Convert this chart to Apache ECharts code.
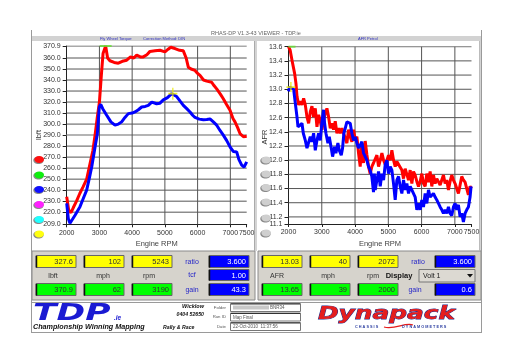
<!DOCTYPE html>
<html><head><meta charset="utf-8">
<script src="https://cdn.jsdelivr.net/npm/echarts@6/dist/echarts.min.js"></script>
<style>html,body{margin:0;padding:0;background:#fff}#c{width:512px;height:362px}</style>
</head><body><div id="c"></div>
<script>
// ---------- data ----------
const rpmTicks = [2000, 3000, 4000, 5000, 6000, 7000, 7500];
const lbftTicks = [209.0, 220, 230, 240, 250, 260, 270, 280, 290, 300, 310, 320, 330, 340, 350, 360, 370.9];
const afrTicks = [11.1, 11.2, 11.4, 11.6, 11.8, 12.0, 12.2, 12.4, 12.6, 12.8, 13.0, 13.2, 13.4, 13.6];

const torqueRed = [[2000,234],[2060,222],[2130,219.5],[2200,224],[2300,230],[2400,237],[2500,243],[2611,250],[2712,264],[2800,276],[2866,290],[2930,305],[3000,320],[3060,345],[3110,364],[3190,370.9],[3250,360],[3320,357.5],[3450,356],[3577,355.3],[3700,357],[3833,358],[3950,361],[4050,360],[4139,362.6],[4250,361],[4340,361],[4450,363],[4545,366],[4698,366.5],[4850,367],[5003,365.6],[5100,368],[5180,369.8],[5308,368.6],[5450,367],[5563,366.5],[5650,360],[5716,351.7],[5800,350],[5920,348.7],[6000,346],[6073,344.2],[6180,340],[6277,339],[6430,338],[6500,335],[6583,332],[6700,327],[6785,323],[6880,318],[6990,312.5],[7080,305],[7142,302],[7220,297],[7295,291.4],[7400,288.5],[7500,289]];
const torqueBlue = [[2000,228],[2050,214],[2100,210],[2150,211],[2250,217],[2406,225],[2500,232],[2610,240],[2700,252],[2764,261],[2865,279],[2936,291],[2996,315.5],[3040,318],[3100,314],[3222,308],[3350,302],[3475,299],[3580,300],[3680,302],[3780,306],[3883,309.5],[4000,310],[4087,311],[4190,313],[4290,315.5],[4400,316],[4493,317],[4600,320],[4646,320.6],[4748,318.5],[4850,319],[4952,322],[5080,324],[5208,327.6],[5243,327.6],[5360,325],[5460,321],[5564,317],[5668,314],[5768,311],[5850,308],[5920,306],[6050,304.5],[6175,304],[6280,304.2],[6378,304.7],[6480,302],[6583,299],[6690,294],[6785,290],[6890,285],[6990,279.3],[7094,275],[7194,274.7],[7260,268],[7347,262.7],[7420,261],[7500,265.7]];

const afrRed = [[2000,13.6],[2050,13.55],[2105,13.41],[2185,13.22],[2225,13.08],[2255,12.9],[2305,12.78],[2355,12.83],[2405,12.78],[2455,12.87],[2505,12.78],[2555,12.61],[2605,12.52],[2655,12.68],[2705,12.76],[2755,12.61],[2805,12.73],[2855,12.47],[2905,12.64],[2955,12.55],[3005,12.43],[3055,12.57],[3105,12.66],[3155,12.73],[3205,12.61],[3255,12.45],[3305,12.52],[3355,12.43],[3405,12.55],[3455,12.38],[3505,12.45],[3555,12.38],[3605,12.45],[3655,12.38],[3705,12.31],[3755,12.24],[3805,12.43],[3855,12.33],[3905,12.26],[3955,12.43],[4005,12.29],[4055,12.33],[4105,12.10],[4155,11.91],[4205,12.24],[4255,11.96],[4305,12.27],[4355,12.08],[4405,11.91],[4455,11.81],[4505,11.91],[4555,11.96],[4607,11.96],[4657,12.07],[4707,11.91],[4757,12.0],[4807,12.10],[4857,12.0],[4907,11.94],[4957,12.0],[5007,12.07],[5057,12.0],[5107,12.14],[5157,12.0],[5207,11.91],[5257,11.98],[5307,11.96],[5357,11.9],[5407,11.86],[5457,11.74],[5507,11.88],[5557,11.8],[5607,11.72],[5657,11.86],[5707,11.67],[5757,11.84],[5807,11.79],[5857,11.7],[5907,11.63],[5957,11.7],[6007,11.81],[6057,11.67],[6107,11.63],[6157,11.81],[6207,11.69],[6257,11.84],[6307,11.63],[6357,11.79],[6407,11.67],[6457,11.74],[6507,11.74],[6557,11.65],[6607,11.63],[6657,11.79],[6707,11.67],[6757,11.72],[6807,11.58],[6857,11.7],[6907,11.79],[6957,11.72],[7007,11.67],[7057,11.6],[7107,11.53],[7157,11.65],[7207,11.77],[7257,11.72],[7307,11.69],[7357,11.6],[7407,11.51],[7457,11.63],[7500,11.6]];
const afrBlue = [[2000,12.97],[2030,13.03],[2072,13.03],[2155,13.0],[2205,12.8],[2255,12.61],[2285,12.47],[2345,12.45],[2405,12.52],[2445,12.38],[2475,12.4],[2505,12.28],[2555,12.17],[2605,12.19],[2655,12.33],[2705,12.26],[2755,12.38],[2805,12.14],[2855,12.28],[2905,12.38],[2955,12.28],[3005,12.54],[3055,12.71],[3085,12.52],[3125,12.38],[3185,12.24],[3225,12.33],[3285,12.17],[3325,12.05],[3385,12.19],[3425,12.1],[3485,12.24],[3525,12.14],[3585,12.07],[3625,12.17],[3665,12.38],[3705,12.45],[3755,12.54],[3805,12.56],[3855,12.52],[3905,12.38],[3955,12.28],[4005,12.33],[4055,12.24],[4105,12.17],[4155,12.21],[4205,12.26],[4255,12.1],[4305,12.1],[4355,12.0],[4405,11.91],[4455,11.86],[4505,11.77],[4555,11.55],[4580,11.81],[4607,11.58],[4657,11.72],[4707,11.84],[4757,11.63],[4807,11.81],[4857,11.72],[4907,11.94],[4957,12.0],[5007,11.81],[5057,11.91],[5107,11.86],[5157,11.67],[5207,11.44],[5257,11.72],[5307,11.77],[5357,11.63],[5407,11.53],[5457,11.72],[5507,11.58],[5557,11.67],[5607,11.53],[5657,11.63],[5707,11.58],[5807,11.48],[5857,11.3],[5907,11.39],[5957,11.3],[6007,11.44],[6057,11.34],[6107,11.53],[6157,11.39],[6207,11.58],[6257,11.48],[6307,11.48],[6357,11.53],[6407,11.48],[6457,11.44],[6507,11.46],[6557,11.34],[6607,11.3],[6657,11.25],[6707,11.3],[6757,11.25],[6807,11.34],[6857,11.25],[6907,11.22],[6957,11.34],[7007,11.39],[7057,11.3],[7107,11.37],[7157,11.2],[7207,11.25],[7257,11.13],[7307,11.25],[7357,11.3],[7407,11.34],[7457,11.48],[7487,11.63]];

const torqueMax = [[3190, 370.9]];
const torqueCursor = [[5243, 327.6]];
const afrMax = [[2000, 13.6]];
const afrCursor = [[2072, 13.03]];

const leftCursorVals = ['327.6', '102', '5243'];
const leftMaxVals = ['370.9', '62', '3190'];
const leftUnits = ['lbft', 'mph', 'rpm'];
const leftCalNames = ['ratio', 'tcf', 'gain'];
const leftCalVals = ['3.600', '1.00', '43.3'];
const rightCursorVals = ['13.03', '40', '2072'];
const rightMaxVals = ['13.65', '39', '2000'];
const rightUnits = ['AFR', 'mph', 'rpm'];
const rightCalNames = ['ratio', 'gain'];
const rightCalVals = ['3.600', '0.6'];
const displayChoice = 'Volt 1';
const titleText = 'RHAS-DP V1.3-43 VIEWER - TDP.ie';
const runInfoLabels = ['Folder', 'Run ID', 'Date'];
const runInfoVals = ['BNR34', 'Map Final', '22-Oct-2010  11:37:56'];

// ---------- helpers ----------
const FF = 'Liberation Sans, Arial, sans-serif';
const G = [];
function rect(x, y, w, h, fill, stroke, lw, z) {
  G.push({type:'rect', z: z==null?-5:z, silent:true, shape:{x, y, width:w, height:h},
    style:{fill, stroke: stroke||null, lineWidth: lw||1}});
}
function text(x, y, t, o) {
  o = o || {};
  G.push({type:'text', z: 10, silent:true, x, y, scaleX: o.scaleX||1, rotation: o.rot||0,
    style:{text:t, fontSize:o.size||7, fontFamily:o.font||FF, fontWeight:o.weight||'normal',
      fontStyle:o.style||'normal', fill:o.color||'#333', align:o.align||'left', verticalAlign:o.va||'middle',
      stroke:o.stroke||null, lineWidth:o.lw||0}});
}
function line(x1, y1, x2, y2, c, w, z) {
  G.push({type:'line', z: z==null?-4:z, silent:true, shape:{x1, y1, x2, y2}, style:{stroke:c, lineWidth:w||1}});
}
function box(x, y, w, h, fill, val, tc) {
  rect(x, y, w, h, fill, '#666', 1, 1);
  line(x+0.5, y+0.5, x+0.5, y+h, '#111', 1.5, 2);
  text(x + w - 3, y + h/2 + 0.5, val, {color: tc, size: 7.5, align:'right'});
}

// frame
line(31.5, 30, 31.5, 333, '#9a9a9a', 1);
line(481.5, 30, 481.5, 333, '#9a9a9a', 1);
text(256, 33.3, titleText, {size:5.5, color:'#666', align:'center'});
rect(32, 36, 449, 5, '#d2d2d2');
text(100, 38.5, 'Fly Wheel Torque:', {size:4, color:'#3030c0'});
text(143, 38.5, 'Correction Method: DIN', {size:4, color:'#3030c0'});
text(358, 38.5, 'AFR Petrol', {size:4, color:'#3030c0'});
rect(254, 41, 3, 210, '#d4d4d4');
line(254.5, 41, 254.5, 251, '#aaa', 1);
line(479.5, 41, 479.5, 251, '#bbb', 1);
rect(480, 41, 1.5, 210, '#d4d4d4');

// y-axis titles
text(39, 135, 'lbft', {size:7.5, color:'#333', align:'center', rot:Math.PI/2});
text(265, 137, 'AFR', {size:7.5, color:'#333', align:'center', rot:Math.PI/2});

// oval buttons
const leftOvalColors = ['#ff1010', '#10ee10', '#1010ff', '#ff20ff', '#20ffff', '#ffff10'];
const leftOvalY = [159.5, 175, 189.5, 204.5, 219.5, 234];
leftOvalY.forEach((cy, i) => {
  G.push({type:'ellipse', z:1, silent:true, shape:{cx:38.5, cy:cy+0.8, rx:5.2, ry:3.8}, style:{fill:'#8a8a8a'}});
  G.push({type:'ellipse', z:2, silent:true, shape:{cx:39.2, cy:cy, rx:4.8, ry:3.4}, style:{fill:leftOvalColors[i]}});
});
const rightOvalY = [160, 174, 187.5, 202, 218, 233];
rightOvalY.forEach(cy => {
  G.push({type:'ellipse', z:1, silent:true, shape:{cx:265.5, cy:cy+0.8, rx:5.2, ry:3.8}, style:{fill:'#8a8a8a'}});
  G.push({type:'ellipse', z:2, silent:true, shape:{cx:266.2, cy:cy, rx:4.8, ry:3.4}, style:{fill:'#cfcfcf'}});
});

// data panels
rect(32, 251, 223, 49, '#d6d3cc', '#8a8a8a', 1, -5);
rect(258, 251, 223, 49, '#d6d3cc', '#8a8a8a', 1, -5);
const lbx = [36, 84, 132];
lbx.forEach((x, i) => {
  box(x, 255.5, 40, 12, '#ffff00', leftCursorVals[i], '#333');
  box(x, 283.5, 40, 12, '#00ff00', leftMaxVals[i], '#333');
});
text(53, 276.5, leftUnits[0], {align:'center'});
text(103, 276.5, leftUnits[1], {align:'center'});
text(149, 276.5, leftUnits[2], {align:'center'});
text(192, 262, leftCalNames[0], {align:'center', color:'#2626c8'});
text(192, 275.5, leftCalNames[1], {align:'center', color:'#2626c8'});
text(192, 290, leftCalNames[2], {align:'center', color:'#2626c8'});
box(209, 255.5, 40, 12, '#0000ff', leftCalVals[0], '#fff');
box(209, 269.5, 40, 11, '#0000ff', leftCalVals[1], '#fff');
box(209, 283.5, 40, 12, '#0000ff', leftCalVals[2], '#fff');

const rbx = [262, 310, 358];
rbx.forEach((x, i) => {
  box(x, 255.5, 40, 12, '#ffff00', rightCursorVals[i], '#333');
  box(x, 283.5, 40, 12, '#00ff00', rightMaxVals[i], '#333');
});
text(277, 276.5, rightUnits[0], {align:'center'});
text(328, 276.5, rightUnits[1], {align:'center'});
text(373, 276.5, rightUnits[2], {align:'center'});
text(399, 276, 'Display', {align:'center', weight:'bold', size:7.5, color:'#111'});
text(418, 262, rightCalNames[0], {align:'center', color:'#2626c8'});
text(415, 290, rightCalNames[1], {align:'center', color:'#2626c8'});
box(435, 255.5, 40, 12, '#0000ff', rightCalVals[0], '#fff');
box(435, 283.5, 40, 12, '#0000ff', rightCalVals[1], '#fff');
rect(419, 269.5, 56, 12.5, '#dcd9d2', '#777', 1, 1);
text(423, 276, displayChoice, {size:7, color:'#222'});
G.push({type:'polygon', z:5, silent:true, shape:{points:[[467,274],[473,274],[470,277.5]]}, style:{fill:'#111'}});

// logo area
rect(31.5, 302.5, 450, 30, '#ffffff', '#9a9a9a', 1, -5);
text(33, 314, 'TDP', {size:23, weight:900, style:'italic', font:'DejaVu Sans', color:'#1a1ad2', scaleX:1.5});
text(114, 318.5, '.ie', {size:6.5, weight:'bold', style:'italic', color:'#1a1ad2'});
text(33, 327, 'Championship Winning Mapping', {size:7.2, weight:'bold', style:'italic', color:'#111'});
text(163, 327.5, 'Rally & Race', {size:5.2, weight:'bold', style:'italic', color:'#111'});
text(204, 306.5, 'Wicklow', {size:5.5, weight:'bold', style:'italic', color:'#111', align:'right'});
text(204, 314.5, '0404 52650', {size:5.2, weight:'bold', style:'italic', color:'#111', align:'right'});
const infoY = [307.5, 317, 326.5];
runInfoLabels.forEach((l, i) => {
  text(226, infoY[i], l, {size:4.3, color:'#555', align:'right'});
  rect(230.5, infoY[i]-4, 70, 8, '#ffffff', '#777', 1, 1);
  line(231, infoY[i]-3.5, 300, infoY[i]-3.5, '#333', 1, 2);
  text(i === 0 ? 270 : 233, infoY[i]+0.3, runInfoVals[i], {size:4.5, color:'#555'});
});
rect(233, 305.5, 36, 4, '#c8c8c8', null, 1, 3);
text(318, 314.5, 'Dynapack', {size:18, weight:900, style:'italic', font:'DejaVu Sans', color:'#e51d1d', stroke:'#1b2a8a', lw:0.8, scaleX:1.38});
text(355, 326.5, 'C H A S S I S', {size:3.8, weight:'bold', color:'#2a3ca0'});
text(402, 326.5, 'D Y N A M O M E T E R S', {size:3.8, weight:'bold', color:'#2a3ca0'});
G.push({type:'bezierCurve', z:5, silent:true, shape:{x1:384, y1:327, x2:413, y2:325, cpx1:395, cpy1:330, cpx2:405, cpy2:322}, style:{stroke:'#e51d1d', lineWidth:1.2, fill:null}});

// ---------- chart ----------
const axLbl = {fontSize:7, color:'#333', fontFamily:FF, hideOverlap:false, showMinLabel:true, showMaxLabel:true};
function xAx(gi) {
  return {gridIndex:gi, type:'value', min:2000, max:7500, name:'Engine RPM', nameLocation:'middle', nameGap:16,
    nameTextStyle:{fontSize:7.5, color:'#444', fontFamily:FF},
    axisLine:{show:true, onZero:false, lineStyle:{color:'#222'}},
    axisTick:{show:true, customValues:rpmTicks, length:3, lineStyle:{color:'#222'}},
    axisLabel:Object.assign({customValues:rpmTicks, margin:5, formatter:v => String(Math.round(v))}, axLbl),
    splitLine:{show:false}};
}
function yAx(gi, mn, mx, ticks) {
  return {gridIndex:gi, type:'value', min:mn, max:mx,
    axisLine:{show:true, onZero:false, lineStyle:{color:'#222'}},
    axisTick:{show:true, customValues:ticks, length:4, lineStyle:{color:'#222'}},
    axisLabel:Object.assign({customValues:ticks, margin:6, formatter:v => v.toFixed(1)}, axLbl),
    splitLine:{show:false}};
}
// grid lines: plain line series placed at the tick values through the axes
function gridLines(xi, yTicks, special) {
  const out = [];
  const r0 = rpmTicks[0], r1 = rpmTicks[rpmTicks.length - 1];
  const y0 = yTicks[0], y1 = yTicks[yTicks.length - 1];
  const base = {type:'line', xAxisIndex:xi, yAxisIndex:xi, symbol:'none', showSymbol:false, silent:true, z:1,
    animation:false, emphasis:{disabled:true}};
  yTicks.slice(1).forEach(v => out.push(Object.assign({}, base, {data:[[r0, v], [r1, v]],
    lineStyle: v === special ? {color:'#b4b4b4', width:2} : {color:'#555', width:1}})));
  rpmTicks.slice(1, -1).forEach(r => out.push(Object.assign({}, base, {data:[[r, y0], [r, y1]],
    lineStyle:{color:'#555', width:1}})));
  return out;
}
function ln(data, color, xi) {
  return {type:'line', xAxisIndex:xi, yAxisIndex:xi, data, symbol:'none', showSymbol:false, silent:true, z:3,
    lineStyle:{color, width:3}, itemStyle:{color}};
}
const crossSym = 'path://M0,6L12,6M6,0L6,12';
function mark(data, xi, sym, size, color, offset) {
  return {type:'scatter', xAxisIndex:xi, yAxisIndex:xi, data, symbol:sym, symbolSize:size, symbolOffset:offset||[0,0], silent:true, z:6,
    itemStyle: sym === crossSym ? {color:'none', borderColor:color, borderWidth:1.5} : {color}};
}

const chart = echarts.init(document.getElementById('c'), null, {renderer:'canvas'});
chart.setOption({
  animation:false,
  backgroundColor:'#ffffff',
  grid:[{left:66.7, top:46, width:180, height:178.3}, {left:288.5, top:46.7, width:183, height:177.3}],
  xAxis:[xAx(0), xAx(1)],
  yAxis:[yAx(0, 209, 370.9, lbftTicks), yAx(1, 11.1, 13.6, afrTicks)],
  series:[].concat(
    gridLines(0, lbftTicks, 290),
    gridLines(1, afrTicks, null),
    [
      ln(torqueRed, '#ff0000', 0),
      ln(torqueBlue, '#0000ff', 0),
      ln(afrRed, '#ff0000', 1),
      ln(afrBlue, '#0000ff', 1),
      mark(torqueMax, 0, 'rect', [12, 2], '#66dd33'),
      mark(torqueCursor, 0, crossSym, [9, 12], '#e8e800'),
      mark(afrMax, 1, 'rect', [7, 2], '#66dd33', [3.5, 0]),
      mark(afrCursor, 1, crossSym, [9, 10], '#e8e800')
    ]),
  graphic:{elements:G}
});
</script></body></html>
